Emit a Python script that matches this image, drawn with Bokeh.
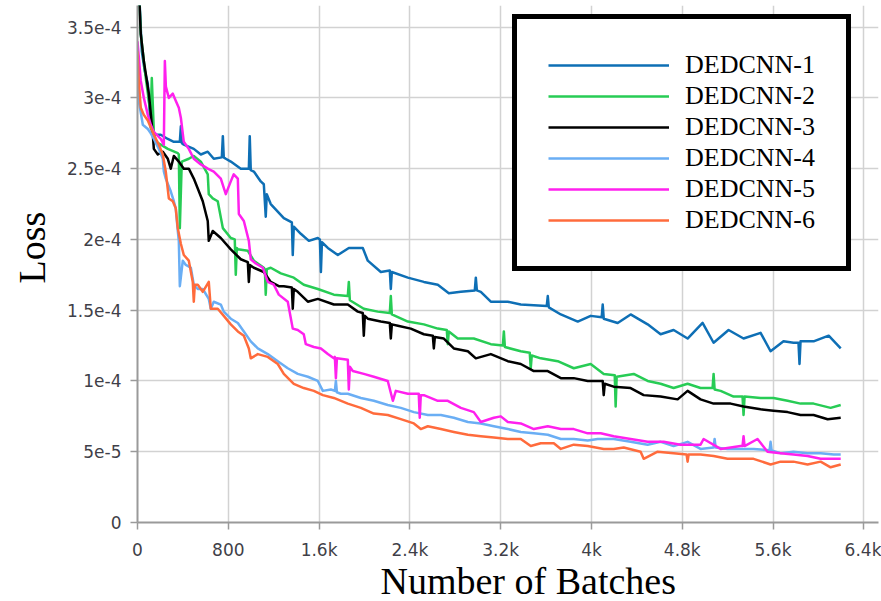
from bokeh.plotting import figure
from bokeh.models import Range1d, FixedTicker, Legend, LegendItem, Title
from bokeh.embed import file_html
from bokeh.resources import INLINE

# ---- data: (batch, loss in units of 1e-5) ----
LOSS_UNIT = 1e-5

dedcnn_1 = [(0, 40), (38, 33.3), (64, 31.9), (91, 31.0), (117, 27.9), (144, 27.4), (205, 27.4), (267, 27.1),
            (320, 26.9), (373, 26.9), (382, 28.0), (391, 26.8), (408, 26.7), (496, 26.4), (558, 26.0), (619, 26.2),
            (672, 25.7), (743, 25.8), (752, 27.3), (760, 25.8), (778, 25.7), (822, 25.5), (910, 25.0), (981, 25.0),
            (989, 27.3), (998, 24.9), (1025, 24.8), (1086, 24.1), (1113, 23.9), (1130, 21.6), (1139, 23.2),
            (1174, 22.5), (1289, 21.5), (1360, 21.2), (1368, 18.9), (1377, 20.9), (1439, 20.4), (1510, 19.9),
            (1589, 20.1), (1607, 20.0), (1616, 17.7), (1625, 19.8), (1677, 19.4), (1765, 18.9), (1862, 19.4),
            (1985, 19.4), (2029, 18.5), (2144, 17.7), (2223, 17.8), (2232, 16.5), (2241, 17.7), (2382, 17.3),
            (2523, 17.0), (2646, 16.8), (2743, 16.2), (2849, 16.3), (2972, 16.4), (2981, 17.3), (2990, 16.4),
            (3025, 16.3), (3113, 15.6), (3263, 15.6), (3377, 15.4), (3606, 15.3), (3615, 16.0), (3624, 15.2),
            (3730, 14.7), (3879, 14.2), (3993, 14.6), (4090, 14.5), (4099, 15.4), (4108, 14.4), (4231, 14.1),
            (4345, 14.7), (4495, 14.0), (4609, 13.3), (4724, 13.6), (4847, 13.0), (4979, 14.1), (5076, 12.7),
            (5208, 13.6), (5340, 13.0), (5490, 13.4), (5578, 12.1), (5692, 12.8), (5780, 12.7), (5824, 12.7),
            (5833, 11.2), (5842, 12.8), (5957, 12.8), (6090, 13.2), (6196, 12.3)]

dedcnn_2 = [(0, 40), (29, 34.5), (73, 31.4), (100, 29.8), (117, 28.8), (126, 31.4), (144, 27.6), (161, 26.9),
            (205, 26.7), (267, 26.4), (355, 26.1), (364, 26.0), (373, 20.8), (390, 25.5), (452, 25.7), (496, 25.9),
            (558, 25.5), (619, 24.6), (628, 23.2), (663, 22.9), (707, 22.7), (752, 20.8), (822, 20.1), (857, 20.0),
            (866, 17.5), (875, 19.4), (884, 19.3), (972, 19.2), (1025, 18.5), (1113, 18.0), (1122, 17.9),
            (1130, 16.1), (1139, 17.9), (1174, 18.0), (1263, 17.6), (1377, 17.3), (1465, 16.8), (1589, 16.5),
            (1730, 16.1), (1853, 16.0), (1862, 17.0), (1871, 15.7), (1994, 15.1), (2117, 14.9), (2223, 14.8),
            (2232, 16.0), (2241, 14.7), (2382, 14.2), (2523, 14.0), (2646, 13.7), (2725, 13.6), (2734, 12.6),
            (2743, 13.5), (2822, 13.0), (2963, 13.0), (3113, 12.6), (3219, 12.5), (3228, 13.5), (3237, 12.4),
            (3377, 12.1), (3456, 12.0), (3465, 10.9), (3474, 11.8), (3553, 11.6), (3703, 11.4), (3844, 10.9),
            (3993, 11.2), (4108, 10.5), (4205, 10.4), (4213, 8.2), (4222, 10.3), (4372, 10.5), (4495, 10.0),
            (4609, 9.8), (4724, 9.5), (4847, 9.8), (4961, 9.5), (5067, 9.5), (5076, 10.5), (5085, 9.4),
            (5138, 9.3), (5252, 8.9), (5331, 8.9), (5340, 7.6), (5349, 8.9), (5490, 8.8), (5604, 8.8),
            (5728, 8.6), (5842, 8.4), (5957, 8.4), (6107, 8.1), (6196, 8.3)]

dedcnn_3 = [(0, 40), (29, 34.5), (56, 32.6), (100, 30.3), (135, 27.4), (144, 26.4), (179, 26.0), (223, 26.2),
            (267, 25.7), (293, 25.0), (320, 25.9), (364, 25.5), (408, 25.0), (452, 25.0), (496, 24.3), (531, 23.6),
            (575, 22.7), (619, 21.3), (628, 19.9), (663, 20.6), (734, 20.1), (822, 19.3), (910, 18.6), (972, 18.4),
            (981, 17.0), (990, 18.2), (1025, 18.0), (1113, 17.7), (1174, 17.0), (1245, 16.7), (1289, 16.7),
            (1360, 16.6), (1368, 15.1), (1377, 16.5), (1412, 16.3), (1501, 15.6), (1589, 15.8), (1730, 15.4),
            (1853, 15.4), (1941, 14.9), (1985, 14.8), (1994, 13.2), (2003, 14.6), (2029, 14.4), (2144, 14.2),
            (2223, 14.1), (2232, 13.0), (2241, 14.0), (2294, 13.9), (2408, 13.7), (2523, 13.3), (2602, 13.2),
            (2611, 12.3), (2620, 13.1), (2699, 13.0), (2787, 12.3), (2911, 12.1), (2981, 11.6), (3113, 11.9),
            (3263, 11.4), (3377, 11.2), (3492, 10.7), (3615, 10.7), (3730, 10.2), (3844, 10.2), (3967, 10.0),
            (4055, 10.0), (4099, 10.0), (4108, 9.0), (4117, 9.8), (4196, 9.6), (4345, 9.5), (4460, 9.0),
            (4609, 8.9), (4759, 8.7), (4847, 9.3), (4961, 8.7), (5076, 8.4), (5226, 8.4), (5340, 8.2),
            (5490, 8.0), (5604, 7.9), (5728, 7.8), (5842, 7.6), (5957, 7.6), (6081, 7.3), (6196, 7.4)]

dedcnn_4 = [(0, 32.6), (11, 29.8), (47, 28.1), (91, 27.8), (117, 27.5), (144, 27.1), (188, 26.4), (223, 25.7),
            (232, 24.8), (249, 24.3), (293, 23.4), (320, 22.7), (337, 22.2), (355, 20.6), (364, 19.9), (373, 16.7),
            (399, 18.5), (426, 18.2), (470, 18.0), (496, 16.8), (531, 16.5), (575, 16.5), (628, 15.8), (646, 15.1),
            (672, 15.6), (734, 15.4), (760, 14.9), (822, 14.4), (884, 14.1), (937, 13.5), (998, 12.8), (1060, 12.3),
            (1148, 11.9), (1236, 11.4), (1324, 10.9), (1412, 10.5), (1501, 10.3), (1589, 10.0), (1633, 9.3),
            (1704, 9.4), (1739, 9.3), (1748, 10.0), (1757, 9.2), (1791, 9.1), (1853, 9.1), (1968, 8.8),
            (2082, 8.6), (2205, 8.3), (2320, 8.1), (2435, 7.8), (2558, 7.6), (2673, 7.6), (2787, 7.4), (2911, 7.1),
            (3025, 7.0), (3140, 6.8), (3263, 6.6), (3377, 6.4), (3492, 6.3), (3615, 6.2), (3730, 5.9), (3844, 5.9),
            (3967, 5.8), (4055, 5.9), (4196, 5.9), (4345, 5.7), (4495, 5.5), (4609, 5.7), (4724, 5.4), (4847, 5.7),
            (4961, 5.2), (5076, 5.3), (5085, 5.9), (5094, 5.3), (5199, 5.2), (5314, 5.2), (5428, 5.2), (5569, 5.1),
            (5578, 5.7), (5587, 5.1), (5666, 4.9), (5780, 5.0), (5904, 4.9), (6019, 4.9), (6134, 4.8), (6196, 4.8)]

dedcnn_5 = [(0, 34.0), (29, 31.2), (56, 30.0), (91, 28.8), (117, 28.1), (144, 27.6), (205, 27.1), (232, 26.7),
            (241, 32.6), (250, 30.8), (276, 30.0), (311, 30.3), (337, 29.8), (364, 29.3), (382, 28.6), (408, 26.9),
            (452, 26.4), (496, 25.7), (558, 25.3), (619, 25.0), (672, 24.8), (734, 24.3), (778, 23.2), (822, 24.1),
            (848, 24.6), (884, 24.3), (893, 21.8), (937, 21.3), (981, 19.9), (998, 18.6), (1042, 18.3),
            (1104, 18.0), (1148, 17.0), (1201, 16.8), (1245, 16.1), (1324, 15.6), (1368, 13.7), (1412, 13.6),
            (1465, 13.3), (1483, 12.6), (1554, 12.4), (1616, 12.3), (1677, 11.9), (1730, 11.6), (1739, 11.7),
            (1748, 10.2), (1757, 11.6), (1853, 11.5), (1862, 9.4), (1871, 11.0), (1897, 10.7), (1994, 10.5),
            (2082, 10.3), (2205, 10.0), (2250, 8.6), (2276, 9.3), (2382, 9.1), (2478, 9.1), (2487, 7.4),
            (2496, 9.0), (2523, 9.0), (2646, 8.6), (2734, 8.6), (2849, 8.1), (2963, 7.8), (3025, 7.1), (3140, 7.4),
            (3201, 7.5), (3263, 7.1), (3377, 7.0), (3492, 6.6), (3615, 6.8), (3730, 6.6), (3844, 6.6), (3967, 6.3),
            (4081, 6.3), (4196, 6.1), (4345, 5.9), (4495, 5.7), (4636, 5.7), (4785, 5.5), (4961, 5.5), (4988, 5.9),
            (5138, 5.2), (5314, 5.4), (5331, 5.4), (5340, 6.1), (5349, 5.4), (5463, 5.9), (5551, 5.0), (5666, 4.9),
            (5780, 4.8), (5904, 4.7), (6019, 4.5), (6134, 4.5), (6196, 4.5)]

dedcnn_6 = [(0, 33.3), (11, 31.2), (29, 29.3), (56, 28.8), (91, 28.4), (117, 27.9), (144, 27.4), (188, 26.7),
            (223, 26.0), (249, 24.8), (276, 22.9), (311, 22.7), (337, 22.2), (355, 20.8), (382, 19.7), (408, 18.9),
            (452, 18.5), (487, 17.0), (496, 15.6), (505, 16.8), (531, 16.8), (575, 16.3), (628, 17.0), (646, 15.1),
            (707, 15.1), (760, 14.6), (822, 14.0), (884, 13.5), (937, 13.2), (981, 12.3), (998, 11.6), (1060, 11.9),
            (1148, 11.7), (1236, 11.2), (1289, 10.5), (1377, 9.8), (1465, 9.5), (1554, 9.3), (1633, 9.0),
            (1730, 8.8), (1853, 8.4), (1968, 8.1), (2082, 7.7), (2205, 7.6), (2320, 7.3), (2435, 7.0), (2496, 6.6),
            (2558, 6.8), (2673, 6.6), (2787, 6.4), (2911, 6.2), (3025, 6.1), (3140, 6.0), (3263, 5.9), (3377, 5.9),
            (3465, 5.4), (3553, 5.6), (3668, 5.6), (3730, 5.2), (3844, 5.5), (3967, 5.4), (4108, 5.2), (4196, 5.2),
            (4284, 5.3), (4433, 5.0), (4460, 4.5), (4583, 5.0), (4724, 4.9), (4838, 4.8), (4847, 4.3), (4856, 4.8),
            (4961, 4.8), (5076, 4.7), (5199, 4.5), (5314, 4.5), (5428, 4.5), (5578, 4.1), (5666, 4.3), (5780, 4.3),
            (5904, 4.1), (6019, 4.3), (6107, 3.9), (6196, 4.1)]

series_names = ["DEDCNN-1", "DEDCNN-2", "DEDCNN-3", "DEDCNN-4", "DEDCNN-5", "DEDCNN-6"]
series_data = [dedcnn_1, dedcnn_2, dedcnn_3, dedcnn_4, dedcnn_5, dedcnn_6]
series_colors = ["#0e6fb5", "#27cc55", "#000000", "#6aaef4", "#ff20ee", "#ff6b3c"]

x_ticks = [0, 800, 1600, 2400, 3200, 4000, 4800, 5600, 6400]
x_tick_labels = ["0", "800", "1.6k", "2.4k", "3.2k", "4k", "4.8k", "5.6k", "6.4k"]
y_ticks = [0.0, 5e-05, 1e-04, 1.5e-04, 2e-04, 2.5e-04, 3e-04, 3.5e-04]
y_tick_labels = ["0", "5e-5", "1e-4", "1.5e-4", "2e-4", "2.5e-4", "3e-4", "3.5e-4"]

# ---- figure ----
p = figure(width=881, height=601, output_backend="svg", toolbar_location=None,
           x_range=Range1d(0, 6529), y_range=Range1d(0, 3.653e-4),
           min_border_left=137, min_border_right=3, min_border_top=5, min_border_bottom=79)
p.outline_line_color = None
p.background_fill_color = "white"
p.border_fill_color = "white"

tick_font = "DejaVu Sans"
for ax in (p.xaxis[0], p.yaxis[0]):
    ax.axis_line_color = "#9a9a9a"
    ax.axis_line_width = 2
    ax.major_tick_line_color = "#9a9a9a"
    ax.major_tick_line_width = 1.5
    ax.major_tick_out = 7
    ax.major_tick_in = 0
    ax.minor_tick_out = 0
    ax.minor_tick_in = 0
    ax.major_label_text_font = tick_font
    ax.major_label_text_font_size = "17px"
    ax.major_label_text_color = "#3f3f48"

p.xaxis.ticker = FixedTicker(ticks=x_ticks)
p.xaxis.major_label_overrides = {t: lab for t, lab in zip(x_ticks, x_tick_labels)}
p.xaxis.major_label_standoff = 10
p.yaxis.ticker = FixedTicker(ticks=y_ticks)
p.yaxis.major_label_overrides = {t: lab for t, lab in zip(y_ticks, y_tick_labels)}
p.yaxis.major_label_standoff = 9

p.xgrid.ticker = FixedTicker(ticks=x_ticks)
p.ygrid.ticker = FixedTicker(ticks=y_ticks)
for g in (p.xgrid[0], p.ygrid[0]):
    g.grid_line_color = "#d2d2d2"
    g.grid_line_width = 1.5

items = []
for name, data, color in zip(series_names, series_data, series_colors):
    xs = [d[0] for d in data]
    ys = [d[1] * LOSS_UNIT for d in data]
    r = p.line(xs, ys, line_color=color, line_width=2.5, line_join="round")
    items.append(LegendItem(label=name, renderers=[r]))

legend = Legend(items=items, location=(375, 251))
legend.margin = 0
legend.padding = 31
legend.spacing = 1
legend.glyph_width = 121
legend.glyph_height = 30
legend.label_height = 30
legend.label_standoff = 16
legend.label_text_font = "Liberation Serif"
legend.label_text_font_size = "26px"
legend.label_text_color = "black"
legend.border_line_color = "black"
legend.border_line_alpha = 1.0
legend.border_line_width = 5
legend.background_fill_color = "white"
legend.background_fill_alpha = 1.0
p.add_layout(legend)

# axis titles
loss_title = Title(text="Loss", align="left", offset=239, standoff=19, vertical_align="top",
                   text_font="Liberation Serif", text_font_size="38px", text_font_style="normal",
                   text_color="black")
batch_title = Title(text="Number of Batches", align="left", offset=243, standoff=0, vertical_align="top",
                    text_font="Liberation Serif", text_font_size="38px", text_font_style="normal",
                    text_color="black")
try:
    batch_title.standoff = -5
except Exception:
    batch_title.standoff = 0
p.add_layout(loss_title, "left")
p.add_layout(batch_title, "below")

open("out.html", "w").write(file_html(p, INLINE))
